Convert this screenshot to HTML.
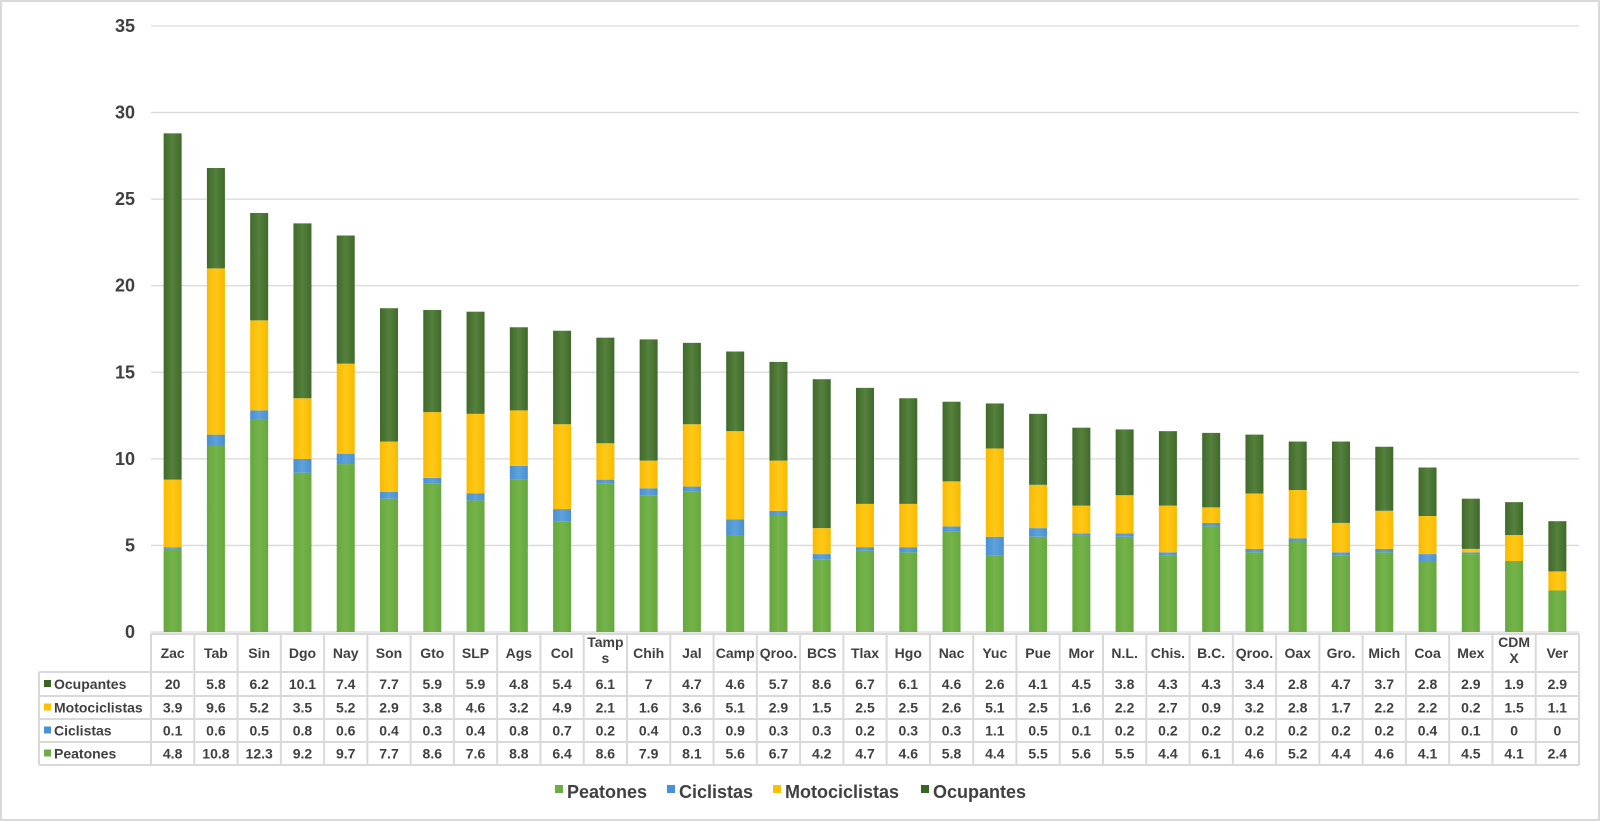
<!DOCTYPE html>
<html><head><meta charset="utf-8">
<style>
body{margin:0;background:#fff;font-family:"Liberation Sans",Arial,sans-serif;}
#wrap{position:relative;width:1600px;height:821px;box-sizing:border-box;border:2px solid #d9d9d9;overflow:hidden}
svg text{font-family:"Liberation Sans",Arial,sans-serif;fill:#404040}
</style></head><body>
<div id="wrap">
<svg id="chart" width="1600" height="821"></svg>
</div>
<script>
const categories=["Zac","Tab","Sin","Dgo","Nay","Son","Gto","SLP","Ags","Col","Tamps","Chih","Jal","Camp","Qroo.","BCS","Tlax","Hgo","Nac","Yuc","Pue","Mor","N.L.","Chis.","B.C.","Qroo.","Oax","Gro.","Mich","Coa","Mex","CDMX","Ver"];
const peatones=[4.8,10.8,12.3,9.2,9.7,7.7,8.6,7.6,8.8,6.4,8.6,7.9,8.1,5.6,6.7,4.2,4.7,4.6,5.8,4.4,5.5,5.6,5.5,4.4,6.1,4.6,5.2,4.4,4.6,4.1,4.5,4.1,2.4];
const ciclistas=[0.1,0.6,0.5,0.8,0.6,0.4,0.3,0.4,0.8,0.7,0.2,0.4,0.3,0.9,0.3,0.3,0.2,0.3,0.3,1.1,0.5,0.1,0.2,0.2,0.2,0.2,0.2,0.2,0.2,0.4,0.1,0,0];
const motociclistas=[3.9,9.6,5.2,3.5,5.2,2.9,3.8,4.6,3.2,4.9,2.1,1.6,3.6,5.1,2.9,1.5,2.5,2.5,2.6,5.1,2.5,1.6,2.2,2.7,0.9,3.2,2.8,1.7,2.2,2.2,0.2,1.5,1.1];
const ocupantes=[20,5.8,6.2,10.1,7.4,7.7,5.9,5.9,4.8,5.4,6.1,7,4.7,4.6,5.7,8.6,6.7,6.1,4.6,2.6,4.1,4.5,3.8,4.3,4.3,3.4,2.8,4.7,3.7,2.8,2.9,1.9,2.9];
const yTicks=[0,5,10,15,20,25,30,35];
const headerLabels=["Zac","Tab","Sin","Dgo","Nay","Son","Gto","SLP","Ags","Col","Tamp s","Chih","Jal","Camp","Qroo.","BCS","Tlax","Hgo","Nac","Yuc","Pue","Mor","N.L.","Chis.","B.C.","Qroo.","Oax","Gro.","Mich","Coa","Mex","CDM X","Ver"];
</script>
<script>
const NS="http://www.w3.org/2000/svg";
const svg=document.getElementById('chart');
function mk(tag,attrs,parent){const e=document.createElementNS(NS,tag);for(const k in attrs)e.setAttribute(k,attrs[k]);(parent||svg).appendChild(e);return e;}
const X0=149,X1=1577,Y0=630,Y35=24;
const n=categories.length;
const cw=(X1-X0)/n;
const y=v=>Y0-(v/35)*(Y0-Y35);
const xc=i=>X0+cw*(i+0.5);
const bw=18;
const defs=mk('defs',{});
function grad(id,c1,c2){const g=mk('linearGradient',{id:id,x1:0,x2:1,y1:0,y2:0},defs);mk('stop',{offset:'0',"stop-color":c1},g);mk('stop',{offset:'0.5',"stop-color":c2},g);mk('stop',{offset:'1',"stop-color":c1},g);}
grad('gP','#66a83e','#74b34a');grad('gC','#4a8fd0','#5ea2dc');grad('gM','#f8ba00','#ffc818');grad('gO','#3f6a2a','#55803d');
yTicks.forEach(t=>{
 const l=mk('line',{x1:X0,x2:X1,y1:y(t),y2:y(t),stroke:'#d9d9d9','stroke-width':1.3});
 
 
 const tx=mk('text',{x:133,y:y(t)+6,'text-anchor':'end','font-size':18,'font-weight':'bold'});
 tx.textContent=t;
 
 
});
const series=[[peatones,'url(#gP)','peatones'],[ciclistas,'url(#gC)','ciclistas'],[motociclistas,'url(#gM)','motociclistas'],[ocupantes,'url(#gO)','ocupantes']];
for(let i=0;i<n;i++){
 let base=0;
 series.forEach(s=>{
  const v=s[0][i];
  const r=mk('rect',{x:xc(i)-bw/2,y:y(base+v),width:bw,height:Math.max(0,y(base)-y(base+v)),fill:s[1]});
  
  
  base+=v;
 });
}
const TL=37,rows=[632,670,694,717,740,763];
const lc='#d9d9d9';
mk('line',{x1:X0,x2:X1,y1:rows[0],y2:rows[0],stroke:lc,'stroke-width':2});
for(let r=1;r<rows.length;r++) mk('line',{x1:TL,x2:X1,y1:rows[r],y2:rows[r],stroke:lc,'stroke-width':2});
mk('line',{x1:TL,x2:TL,y1:rows[1],y2:rows[5],stroke:lc,'stroke-width':2});
for(let i=0;i<=n;i++) mk('line',{x1:X0+cw*i,x2:X0+cw*i,y1:rows[0],y2:rows[5],stroke:lc,'stroke-width':2});
for(let i=0;i<n;i++){
 const parts=headerLabels[i].split(' ');
 parts.forEach((p,k)=>{
  const t=mk('text',{x:xc(i),y:(parts.length>1?645+k*16:656),'text-anchor':'middle','font-size':14,'font-weight':'bold'});
  t.textContent=p;
  
  
 });
}
const tableSeries=[[ocupantes,'#3a6425','Ocupantes'],[motociclistas,'#ffc000','Motociclistas'],[ciclistas,'#4a90d6','Ciclistas'],[peatones,'#6cae45','Peatones']];
tableSeries.forEach((s,r)=>{
 const cy=(rows[r+1]+rows[r+2])/2;
 mk('rect',{x:42,y:cy-4,width:7,height:7,fill:s[1]});
 const lb=mk('text',{x:52,y:cy+5,'font-size':14,'font-weight':'bold'});
 lb.textContent=s[2];
 
 
 for(let i=0;i<n;i++){
  const t=mk('text',{x:xc(i),y:cy+5,'text-anchor':'middle','font-size':14,'font-weight':'bold'});
  t.textContent=s[0][i];
  
  
 }
});
const leg=[['#6cae45','Peatones',553],['#4a90d6','Ciclistas',665],['#ffc000','Motociclistas',771],['#3a6425','Ocupantes',919]];
leg.forEach(l=>{
 mk('rect',{x:l[2],y:783,width:8,height:8,fill:l[0]});
 const t=mk('text',{x:l[2]+12,y:796,'font-size':18,'font-weight':'bold'});
 t.textContent=l[1];
 
 
});
</script>
</body></html>
